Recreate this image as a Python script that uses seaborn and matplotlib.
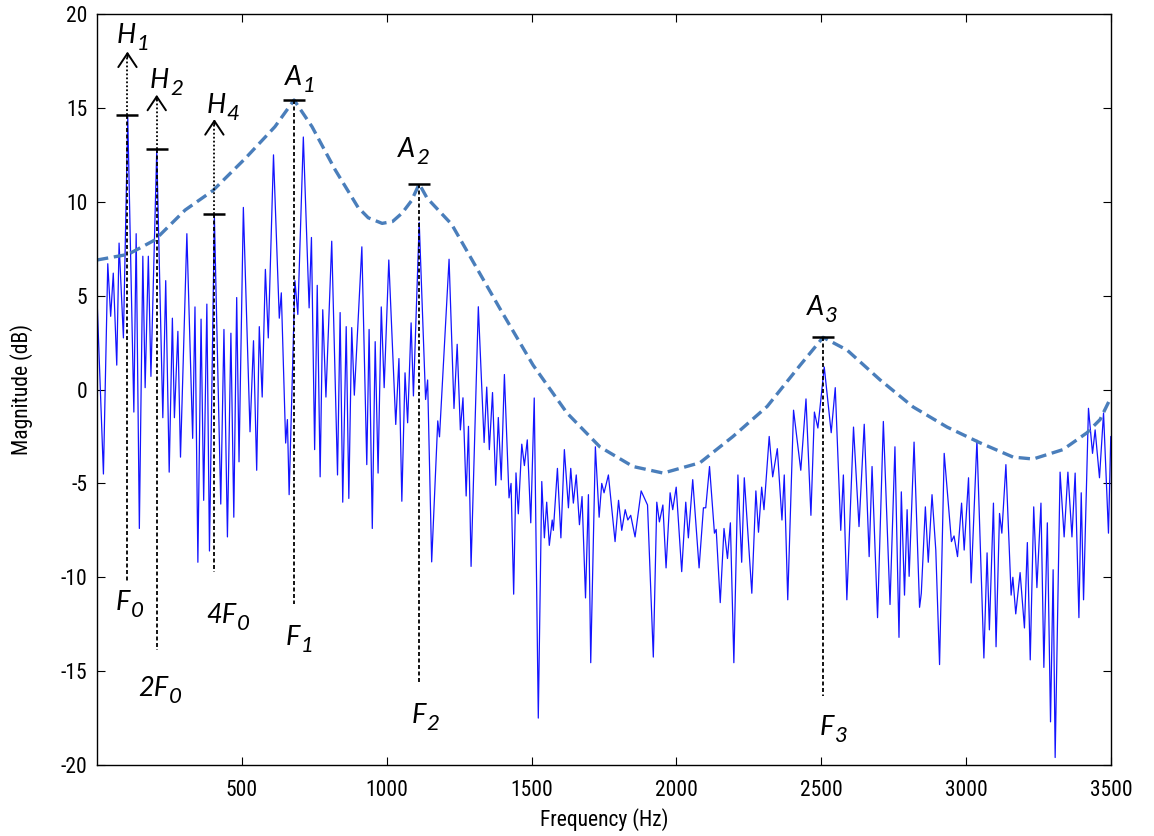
import numpy as np
import pandas as pd
import matplotlib
matplotlib.use("Agg")
import matplotlib.pyplot as plt
from matplotlib import font_manager as fm
import seaborn as sns

# ---------------- data ----------------
spec_hz = [0, 22, 37, 47, 56, 68, 76, 91, 106, 127, 135, 146, 158, 166, 177, 186, 206, 227, 237, 249,
           260, 267, 279, 288, 310, 330, 338, 348, 359, 368, 379, 388, 405, 427, 438, 450, 462, 472, 482, 490,
           505, 528, 540, 551, 560, 570, 581, 591, 609, 629, 636, 651, 657, 663, 683, 693, 712, 732, 740, 751,
           760, 770, 779, 790, 810, 830, 839, 848, 860, 869, 879, 888, 914, 931, 939, 950, 960, 970, 981, 991,
           1007, 1031, 1042, 1052, 1063, 1072, 1084, 1092, 1112, 1134, 1141, 1155, 1176, 1182, 1215, 1232, 1243, 1254, 1263, 1274,
           1282, 1291, 1316, 1336, 1345, 1354, 1365, 1376, 1385, 1395, 1406, 1422, 1429, 1438, 1446, 1454, 1466, 1475, 1485, 1497,
           1509, 1523, 1535, 1544, 1552, 1561, 1571, 1575, 1589, 1601, 1613, 1627, 1635, 1644, 1654, 1665, 1674, 1686, 1696, 1704,
           1720, 1733, 1742, 1750, 1765, 1788, 1800, 1811, 1823, 1832, 1842, 1857, 1878, 1900, 1920, 1932, 1941, 1953, 1964, 1978,
           1987, 1999, 2018, 2032, 2041, 2056, 2078, 2093, 2101, 2114, 2131, 2137, 2151, 2164, 2176, 2186, 2198, 2212, 2225, 2234,
           2260, 2274, 2283, 2294, 2302, 2320, 2332, 2348, 2364, 2372, 2384, 2404, 2429, 2447, 2464, 2476, 2488, 2510, 2534, 2548,
           2567, 2576, 2588, 2611, 2630, 2648, 2665, 2675, 2694, 2714, 2737, 2754, 2768, 2776, 2787, 2796, 2803, 2820, 2839, 2845,
           2859, 2869, 2882, 2895, 2908, 2924, 2949, 2958, 2970, 2984, 2993, 3008, 3017, 3037, 3061, 3072, 3080, 3094, 3103, 3115,
           3123, 3137, 3155, 3161, 3171, 3186, 3201, 3211, 3221, 3233, 3244, 3258, 3268, 3280, 3291, 3300, 3307, 3324, 3338, 3351,
           3365, 3376, 3389, 3397, 3405, 3422, 3436, 3445, 3460, 3474, 3491, 3499]
spec_db = [4.8, -4.5, 6.7, 3.9, 6.2, 1.3, 7.8, 2.75, 14.5, -1.2, 8.3, -7.4, 7.1, 0.1, 7.1, 0.7, 12.75, -1.5, 5.8, -4.4,
           3.8, -1.5, 3.1, -3.6, 8.3, -2.6, 4.4, -9.2, 3.75, -5.9, 4.55, -8.6, 9.2, -6.1, 3.2, -7.85, 3.0, -6.8, 4.9, -3.85,
           9.7, -2.25, 2.6, -4.3, 3.35, -0.4, 6.4, 2.75, 12.5, 3.8, 5.15, -2.85, -1.6, -5.6, 5.8, 4.0, 13.45, 4.35, 8.1, -3.2,
           5.55, -4.65, 4.25, -0.4, 7.9, -4.55, 4.1, -6.0, 3.35, -5.8, 3.3, -0.3, 7.6, -4.0, 3.2, -7.4, 2.55, -4.45, 4.4, 0.1,
           6.9, -1.86, 1.65, -5.95, 0.89, -1.77, 3.55, -0.34, 8.9, -0.53, 0.51, -9.18, -1.67, -2.52, 6.94, -1.01, 2.41, -2.15, -0.44, -5.67,
           -1.96, -9.42, 4.41, -2.82, 0.13, -3.2, -0.16, -5.1, -1.49, -4.81, 0.8, -5.77, -5.0, -10.9, -4.44, -6.62, -2.91, -4.05, -2.68, -7.1,
           -0.45, -17.5, -4.9, -7.9, -6.0, -8.3, -6.95, -7.5, -4.2, -7.9, -3.2, -6.3, -4.2, -6.05, -4.55, -7.2, -5.7, -11.1, -5.6, -14.55,
           -3.05, -6.8, -5.0, -5.5, -4.55, -8.1, -5.9, -7.5, -6.4, -6.95, -6.7, -7.85, -5.4, -6.15, -14.25, -6.0, -7.05, -6.15, -9.5, -5.5,
           -6.4, -5.2, -9.7, -6.0, -7.9, -4.8, -9.5, -6.3, -6.3, -4.1, -7.65, -7.45, -11.35, -7.4, -9.0, -7.1, -14.55, -4.55, -9.2, -4.7,
           -10.85, -5.4, -7.6, -5.2, -6.4, -2.5, -4.65, -3.15, -6.95, -4.55, -11.2, -1.1, -4.3, -0.5, -6.7, -1.2, -2.05, 1.2, -2.3, 0.1,
           -7.5, -4.55, -11.2, -2.0, -7.3, -1.85, -8.9, -4.1, -12.15, -1.7, -11.45, -3.05, -13.2, -5.45, -10.95, -6.4, -9.95, -2.8, -11.6, -10.85,
           -6.25, -9.2, -5.6, -8.55, -14.65, -3.4, -8.1, -7.8, -8.9, -6.05, -8.55, -4.7, -10.3, -2.7, -14.3, -8.7, -12.8, -6.05, -13.7, -6.6,
           -7.65, -4.0, -10.95, -10.0, -11.95, -9.75, -12.7, -8.15, -14.4, -6.25, -10.55, -6.05, -14.8, -7.1, -17.7, -9.6, -19.6, -4.4, -7.85, -4.4,
           -7.85, -4.45, -12.15, -5.5, -11.2, -1.0, -3.4, -2.15, -4.7, -1.25, -7.65, -2.5]

env_hz = [0, 107, 200, 304, 400, 511, 614, 680, 742, 822, 901, 936, 984, 1020, 1053, 1085, 1112, 1139, 1224, 1339,
          1391, 1505, 1622, 1736, 1850, 1954, 2081, 2195, 2313, 2427, 2506, 2589, 2703, 2817, 2934, 3048, 3162, 3231, 3334,
          3417, 3462, 3500]
env_db = [6.9, 7.2, 7.97, 9.56, 10.6, 12.3, 14.0, 15.42, 14.0, 11.7, 9.7, 9.15, 8.85, 8.95, 9.4, 10.05, 10.95, 10.2, 8.8, 5.7,
          4.3, 1.3, -1.25, -3.06, -4.1, -4.45, -3.9, -2.5, -0.9, 1.3, 2.78, 2.1, 0.51, -0.93, -2.0, -2.84, -3.6, -3.7, -3.2,
          -2.3, -1.6, -0.4]

# harmonic markers (H) : frequency, bar level, arrow tip
harm_main = ["H", "H", "H"]
harm_sub = ["1", "2", "4"]
harm_hz = [105, 206, 405]
harm_bar = [14.62, 12.8, 9.35]
harm_tip = [18.0, 15.7, 14.4]
harm_lab_hz = [69, 183, 379]
harm_lab_db = [18.44, 16.04, 14.71]
harm_bmain = ["F", "2F", "4F"]
harm_bsub = ["0", "0", "0"]
harm_bottom = [-10.32, -13.87, -9.7]
harm_blab_hz = [65, 143, 376]
harm_blab_db = [-11.74, -16.35, -12.43]

# formant markers (A / F)
form_main = ["A", "A", "A"]
form_sub = ["1", "2", "3"]
form_bmain = ["F", "F", "F"]
form_hz = [680, 1112, 2506]
form_bar = [15.42, 10.95, 2.78]
form_bottom = [-11.42, -15.63, -16.35]
form_lab_hz = [647, 1040, 2450]
form_lab_db = [16.22, 12.4, 3.97]
form_blab_hz = [651, 1086, 2494]
form_blab_db = [-13.6, -17.75, -18.4]

x_ticks = [500, 1000, 1500, 2000, 2500, 3000, 3500]
y_ticks = [-20, -15, -10, -5, 0, 5, 10, 15, 20]

# ---------------- style ----------------
sns.set_style("ticks")
names = {f.name for f in fm.fontManager.ttflist}
cand = ["Liberation Sans Narrow", "Roboto Condensed", "Arial Narrow", "Liberation Sans"]
tick_font = next((c for c in cand if c in names), "DejaVu Sans")
plt.rcParams["font.family"] = [tick_font, "DejaVu Sans"]
plt.rcParams["text.color"] = "black"
plt.rcParams["axes.labelcolor"] = "black"
plt.rcParams["xtick.color"] = "black"
plt.rcParams["ytick.color"] = "black"
lab_font = "Lato" if "Lato" in names else "DejaVu Sans"

fig = plt.figure(figsize=(11.54, 8.36), dpi=100)
ax = fig.add_axes([0.0841, 0.0849, 0.8787, 0.8983])

spec = pd.DataFrame({"hz": spec_hz, "db": spec_db})
env = pd.DataFrame({"hz": env_hz, "db": env_db})

sns.lineplot(data=spec, x="hz", y="db", ax=ax, color="#1414ff", lw=0.9,
             estimator=None, sort=False)
sns.lineplot(data=env, x="hz", y="db", ax=ax, color="#4a7ebb", lw=2.4,
             estimator=None, sort=False, linestyle=(0, (3.4, 1.7)))


def label(x, y, main, sub):
    t = ax.text(x, y, main, fontsize=19.5, family=lab_font, style="italic",
                ha="left", va="baseline", color="black")
    ax.annotate(sub, xy=(1, 0), xycoords=t, xytext=(0.5, 3.0), textcoords="offset points",
                fontsize=16, family=lab_font, style="italic", ha="left", va="center", color="black")


half = 38
blk = "black"
for i in range(3):
    f = harm_hz[i]
    ax.plot([f - half, f + half], [harm_bar[i]] * 2, color=blk, lw=1.8, solid_capstyle="butt")
    ax.plot([f, f], [harm_bar[i], harm_tip[i] - 0.1], color=blk, lw=1.3, ls=(0, (1, 1.2)))
    ax.annotate("", xy=(f, harm_tip[i]), xytext=(f, harm_tip[i] - 0.3),
                arrowprops=dict(arrowstyle="->,head_length=0.45,head_width=0.3", lw=1.4, color=blk,
                                shrinkA=0, shrinkB=0, mutation_scale=22))
    ax.plot([f, f], [harm_bar[i], harm_bottom[i]], color=blk, lw=1.3, ls=(0, (2.2, 1.4)))
    label(harm_lab_hz[i], harm_lab_db[i], harm_main[i], harm_sub[i])
    label(harm_blab_hz[i], harm_blab_db[i], harm_bmain[i], harm_bsub[i])

for i in range(3):
    f = form_hz[i]
    ax.plot([f - half, f + half], [form_bar[i]] * 2, color=blk, lw=1.8, solid_capstyle="butt")
    ax.plot([f, f], [form_bar[i], form_bottom[i]], color=blk, lw=1.3, ls=(0, (2.2, 1.4)))
    label(form_lab_hz[i], form_lab_db[i], form_main[i], form_sub[i])
    label(form_blab_hz[i], form_blab_db[i], form_bmain[i], form_sub[i])

ax.set_xlim(0, 3500)
ax.set_ylim(-20, 20)
ax.set_xticks(x_ticks)
ax.set_yticks(y_ticks)
ax.set_xticklabels([str(v) for v in x_ticks])
ax.set_yticklabels([str(v) for v in y_ticks])
ax.tick_params(direction="in", length=6, width=0.8, top=True, right=True,
               labelsize=15.5, colors="black")
ax.tick_params(axis="x", pad=11)
ax.tick_params(axis="y", pad=7)
for s in ax.spines.values():
    s.set_visible(True)
    s.set_color("black")
    s.set_linewidth(1.0)
ax.set_xlabel("Frequency (Hz)", fontsize=15.5, labelpad=5)
ax.set_ylabel("Magnitude (dB)", fontsize=15.5, labelpad=20)

fig.savefig("out.png", dpi=100)
